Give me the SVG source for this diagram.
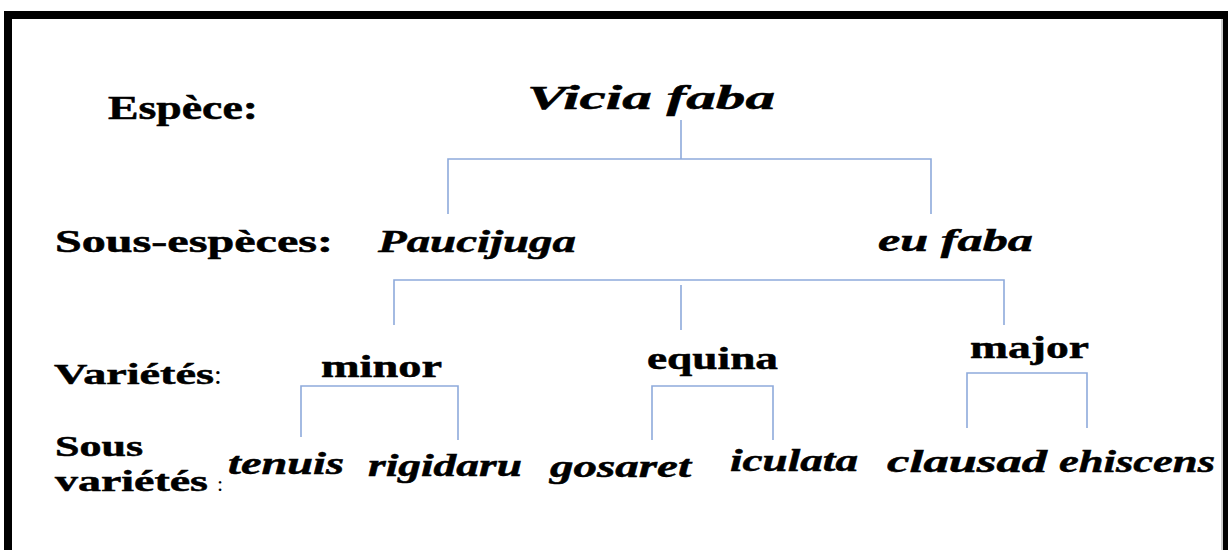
<svg xmlns="http://www.w3.org/2000/svg" width="1228" height="550" viewBox="0 0 1228 550">
<style>
text{font-family:'Liberation Serif',serif;font-weight:700;fill:#000;stroke:#000;stroke-width:0.5}
.i{font-style:italic}
.n{font-weight:400;stroke:none}
.c{stroke:#8eaadb;stroke-width:1.6;fill:none}
</style>
<rect x="0" y="0" width="1228" height="550" fill="#fff"/>
<g id="frame">
<rect x="4" y="11" width="1224" height="8" fill="#000"/>
<rect x="4" y="11" width="8" height="539" fill="#000"/>
<rect x="1223" y="11" width="5" height="539" fill="#000"/>
<line x1="1222" y1="19" x2="1222" y2="550" stroke="#999" stroke-width="1"/>
</g>
<g id="labels">
<text x="108" y="119" font-size="34" textLength="150" lengthAdjust="spacingAndGlyphs">Espèce:</text>
<text x="55" y="252" font-size="31" textLength="278" lengthAdjust="spacingAndGlyphs">Sous-espèces:</text>
<text x="54" y="384" font-size="30" textLength="160" lengthAdjust="spacingAndGlyphs">Variétés</text>
<text class="n" x="214" y="384" font-size="28">:</text>
<text x="55" y="456" font-size="30" textLength="88" lengthAdjust="spacingAndGlyphs">Sous</text>
<text x="55" y="491" font-size="30" textLength="153" lengthAdjust="spacingAndGlyphs">variétés</text>
<text class="n" x="217" y="491" font-size="22">:</text>
</g>
<g id="connectors">
<path class="c" d="M681 120V159M448 214V159H931V214"/>
<path class="c" d="M394 325V280H1004V325M681 285V330"/>
<path class="c" d="M301 437V386H458V440"/>
<path class="c" d="M652 440V386H773V440"/>
<path class="c" d="M967 428V373H1087V428"/>
</g>
<g id="n-vicia"><text class="i" x="527" y="109" font-size="33" textLength="248" lengthAdjust="spacingAndGlyphs">Vicia faba</text></g>
<g id="n-paucijuga"><text class="i" x="378" y="252" font-size="31" textLength="198" lengthAdjust="spacingAndGlyphs">Paucijuga</text></g>
<g id="n-eufaba"><text class="i" x="878" y="251" font-size="31" textLength="155" lengthAdjust="spacingAndGlyphs">eu faba</text></g>
<g id="n-minor"><text x="321" y="377" font-size="32" textLength="121" lengthAdjust="spacingAndGlyphs">minor</text></g>
<g id="n-equina"><text x="647" y="369" font-size="32" textLength="131" lengthAdjust="spacingAndGlyphs">equina</text></g>
<g id="n-major"><text x="970" y="358" font-size="32" textLength="119" lengthAdjust="spacingAndGlyphs">major</text></g>
<g id="n-tenuis"><text class="i" x="228" y="474" font-size="31" textLength="116" lengthAdjust="spacingAndGlyphs">tenuis</text></g>
<g id="n-rigidaru"><text class="i" x="368" y="476" font-size="31" textLength="154" lengthAdjust="spacingAndGlyphs">rigidaru</text></g>
<g id="n-gosaret"><text class="i" x="550" y="477" font-size="31" textLength="141" lengthAdjust="spacingAndGlyphs">gosaret</text></g>
<g id="n-iculata"><text class="i" x="730" y="471" font-size="31" textLength="128" lengthAdjust="spacingAndGlyphs">iculata</text></g>
<g id="n-clausad"><text class="i" x="887" y="472" font-size="31" textLength="160" lengthAdjust="spacingAndGlyphs">clausad</text></g>
<g id="n-ehiscens"><text class="i" x="1059" y="472" font-size="31" textLength="156" lengthAdjust="spacingAndGlyphs">ehiscens</text></g>
</svg>
